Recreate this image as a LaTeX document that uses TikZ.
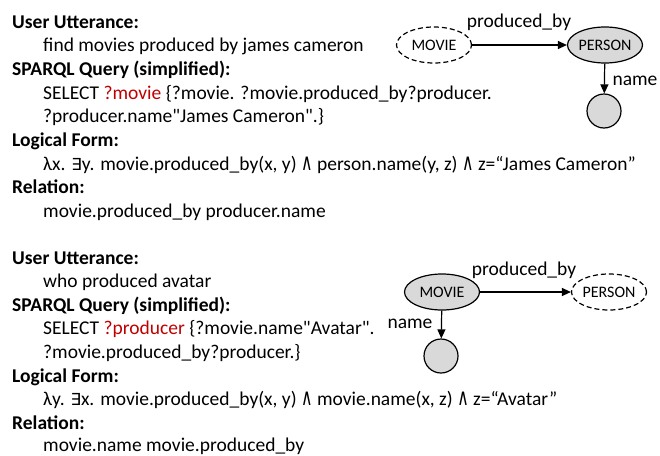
\documentclass[tikz,border=0pt]{standalone}
\usepackage{fontspec}
\usepackage{graphicx}
\setmainfont{Carlito}
\newfontfamily\symfont[Scale=0.85]{DejaVu Sans}
\usetikzlibrary{arrows.meta,shapes.geometric}
\definecolor{vargray}{HTML}{D9D9D9}
\definecolor{varred}{HTML}{C00000}
\newcommand{\bodyfs}{\fontsize{19.5}{23.7}\selectfont}
\newcommand{\entfs}{\fontsize{16}{19}\selectfont}
\newcommand{\qvar}[1]{\textcolor{varred}{#1}}
\newcommand{\symexists}{{\symfont ∃}}
\newcommand{\symand}{{\symfont\scalebox{0.95}[1.4]{∧}}}
\newcommand{\dq}{\textquotedbl}
\begin{document}
\begin{tikzpicture}[x=1pt,y=-1pt,
  every node/.style={inner sep=0pt},
  head/.style={anchor=base west,font=\bodyfs\bfseries},
  body/.style={anchor=base west,font=\bodyfs},
  ent/.style={ellipse,draw,line width=1.2pt,minimum width=75pt,minimum height=36pt,font=\entfs},
  known/.style={ent,fill=vargray},
  unknown/.style={ent,dash pattern=on 5pt off 3pt},
  val/.style={circle,draw,line width=1.2pt,fill=vargray,minimum size=34pt},
  rel/.style={line width=1.2pt,-{Triangle[length=9pt,width=8pt]}},
  lbl/.style={font=\bodyfs}]
\useasboundingbox (0,0) rectangle (660,455);

% ---- first example ----
\node[head] (u1h) at (12,28) {User Utterance:};
\node[body] (u1)  at (43,51.7) {find movies produced by james cameron};
\node[head] (s1h) at (12,75.4) {SPARQL Query (simplified):};
\node[body] (s1a) at (43,99.1) {SELECT \qvar{?movie} \{?movie. ?movie.produced\_by?producer.};
\node[body] (s1b) at (43,122.8) {?producer.name\dq James Cameron\dq.\}};
\node[head] (l1h) at (12,146.5) {Logical Form:};
\node[body] (l1)  at (43,170.2) {λx. \symexists y. movie.produced\_by(x, y) \symand{} person.name(y, z) \symand{} z=“James Cameron”};
\node[head] (r1h) at (12,193.9) {Relation:};
\node[body] (r1)  at (43,217.6) {movie.produced\_by producer.name};

\node[unknown] (m1) at (434,45) {MOVIE};
\node[known]   (p1) at (605,45) {PERSON};
\node[val]     (v1) at (604,111) {};
\draw[rel] (m1) -- (p1);
\draw[rel] (p1) -- (v1);
\node[lbl,anchor=base] (pb1) at (519,27) {produced\_by};
\node[lbl,anchor=base] (n1)  at (635,85) {name};

% ---- second example ----
\node[head] (u2h) at (12,264) {User Utterance:};
\node[body] (u2)  at (43,287.6) {who produced avatar};
\node[head] (s2h) at (12,311.2) {SPARQL Query (simplified):};
\node[body] (s2a) at (43,334.8) {SELECT \qvar{?producer} \{?movie.name\dq Avatar\dq.};
\node[body] (s2b) at (43,358.4) {?movie.produced\_by?producer.\}};
\node[head] (l2h) at (12,382) {Logical Form:};
\node[body] (l2)  at (43,405.6) {λy. \symexists x. movie.produced\_by(x, y) \symand{} movie.name(x, z) \symand{} z=“Avatar”};
\node[head] (r2h) at (12,429.2) {Relation:};
\node[body] (r2)  at (43,451.5) {movie.name movie.produced\_by};

\node[known]   (m2) at (442,292) {MOVIE};
\node[unknown] (p2) at (609,292) {PERSON};
\node[val]     (v2) at (441,356) {};
\draw[rel] (m2) -- (p2);
\draw[rel] (m2) -- (v2);
\node[lbl,anchor=base] (pb2) at (524,275) {produced\_by};
\node[lbl,anchor=base] (n2)  at (410,328) {name};
\end{tikzpicture}
\end{document}
